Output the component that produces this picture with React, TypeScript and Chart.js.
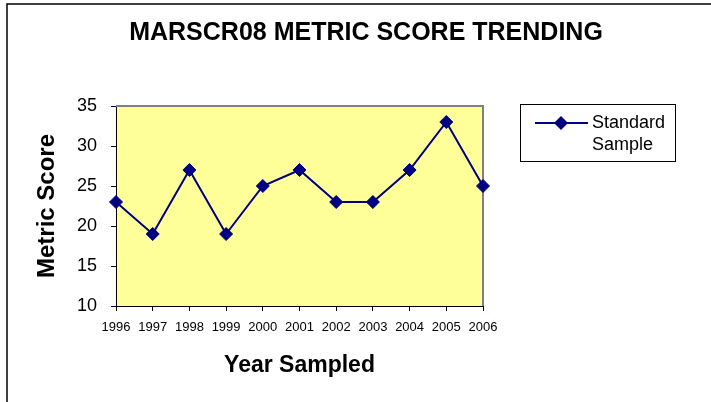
import { useEffect, useRef } from 'react';
import { Chart, registerables } from 'chart.js';

Chart.register(...registerables);

const chartTitle = 'MARSCR08 METRIC SCORE TRENDING';
const xAxisTitle = 'Year Sampled';
const yAxisTitle = 'Metric Score';
const years = ['1996', '1997', '1998', '1999', '2000', '2001', '2002', '2003', '2004', '2005', '2006'];
const seriesLabel = 'Standard Sample';
const standardSample = [23, 19, 27, 19, 25, 27, 23, 23, 27, 33, 25];
const yTickValues = [10, 15, 20, 25, 30, 35];

const FONT = "'Liberation Sans', Arial, Helvetica, sans-serif";
const NAVY = '#000080';

const framePlugin = {
  id: 'frame',
  beforeDraw(chart: any) {
    const { ctx, chartArea: a } = chart;
    ctx.save();
    ctx.fillStyle = '#ffffff';
    ctx.fillRect(0, 0, chart.width, chart.height);
    ctx.strokeStyle = '#000000';
    ctx.lineWidth = 1.5;
    ctx.strokeRect(7, 4, chart.width + 20, chart.height + 20);
    ctx.fillStyle = '#FFFF99';
    ctx.fillRect(a.left, a.top, a.right - a.left, a.bottom - a.top);
    ctx.restore();
  },
  beforeDatasetsDraw(chart: any) {
    const { ctx, chartArea: a } = chart;
    ctx.save();
    ctx.strokeStyle = '#808080';
    ctx.lineWidth = 2;
    ctx.beginPath();
    ctx.moveTo(a.left, a.top);
    ctx.lineTo(a.right, a.top);
    ctx.lineTo(a.right, a.bottom);
    ctx.stroke();
    ctx.restore();
  },
  afterDraw(chart: any) {
    const { ctx } = chart;
    const ds = chart.data.datasets[0];
    ctx.save();
    ctx.strokeStyle = '#000000';
    ctx.lineWidth = 1;
    ctx.strokeRect(520.5, 104.5, 155, 57);
    ctx.strokeStyle = NAVY;
    ctx.lineWidth = 2;
    ctx.beginPath();
    ctx.moveTo(535, 123);
    ctx.lineTo(588, 123);
    ctx.stroke();
    ctx.fillStyle = NAVY;
    ctx.beginPath();
    const r = 7;
    ctx.moveTo(561 - r, 123);
    ctx.lineTo(561, 123 - r);
    ctx.lineTo(561 + r, 123);
    ctx.lineTo(561, 123 + r);
    ctx.closePath();
    ctx.fill();
    ctx.fillStyle = '#000000';
    ctx.font = `18px ${FONT}`;
    ctx.textAlign = 'left';
    ctx.textBaseline = 'alphabetic';
    const words = String(ds.label).split(' ');
    words.forEach((w: string, i: number) => {
      ctx.fillText(w, 592, 128 + i * 22);
    });
    ctx.restore();
  },
};

export default function App() {
  const ref = useRef<HTMLCanvasElement | null>(null);

  useEffect(() => {
    if (!ref.current) return;
    const chart = new Chart(ref.current, {
      type: 'line',
      data: {
        labels: years,
        datasets: [
          {
            label: seriesLabel,
            data: standardSample,
            borderColor: NAVY,
            backgroundColor: NAVY,
            borderWidth: 2,
            pointStyle: 'rectRot',
            pointRadius: 6.5,
            pointBorderWidth: 1,
            pointBackgroundColor: NAVY,
            pointBorderColor: NAVY,
            tension: 0,
            clip: false as any,
            yAxisID: 'y',
          },
        ],
      },
      options: {
        responsive: false,
        animation: false,
        color: '#000',
        layout: { padding: { left: 21, right: 0, top: 0, bottom: 0 } },
        plugins: {
          legend: { display: false },
          tooltip: { enabled: false },
          title: {
            display: true,
            text: chartTitle,
            color: '#000',
            font: { family: FONT, size: 25, weight: 'bold', lineHeight: 1.2 },
            padding: { top: 18, bottom: 58 },
          },
        },
        scales: {
          x: {
            type: 'category',
            offset: false,
            grid: {
              display: true,
              drawOnChartArea: false,
              drawTicks: true,
              tickLength: 5,
              color: '#000',
            },
            border: { display: true, color: '#000', width: 1 },
            ticks: {
              color: '#000',
              font: { family: FONT, size: 13 },
              padding: 9,
              maxRotation: 0,
              autoSkip: false,
            },
            title: {
              display: true,
              text: xAxisTitle,
              color: '#000',
              font: { family: FONT, size: 23, weight: 'bold', lineHeight: 1.2 },
              padding: { top: 0, bottom: 23 },
            },
            afterFit(scale: any) {
              scale.height = 96;
            },
          },
          y: {
            type: 'linear',
            position: 'left',
            min: yTickValues[0],
            max: yTickValues[yTickValues.length - 1],
            afterBuildTicks(scale: any) {
              scale.ticks = yTickValues.map((v) => ({ value: v }));
            },
            grid: {
              display: true,
              drawOnChartArea: false,
              drawTicks: true,
              tickLength: 5,
              color: '#000',
            },
            border: { display: true, color: '#000', width: 1 },
            ticks: {
              color: '#000',
              font: { family: FONT, size: 18 },
              padding: 14,
            },
            title: {
              display: true,
              text: yAxisTitle,
              color: '#000',
              font: { family: FONT, size: 24, weight: 'bold', lineHeight: 1.2 },
              padding: { top: 12, bottom: 0 },
            },
            afterFit(scale: any) {
              scale.width = 95;
            },
          },
          yRight: {
            type: 'linear',
            position: 'right',
            display: true,
            grid: { display: false, drawTicks: false },
            border: { display: false },
            ticks: { display: false },
            afterFit(scale: any) {
              scale.width = 228;
            },
          },
        },
      },
      plugins: [framePlugin],
    } as any);
    return () => chart.destroy();
  }, []);

  return (
    <div style={{ position: 'absolute', left: 0, top: 0, width: 711, height: 402 }}>
      <canvas ref={ref} width={711} height={402} style={{ display: 'block', width: 711, height: 402 }} />
    </div>
  );
}
